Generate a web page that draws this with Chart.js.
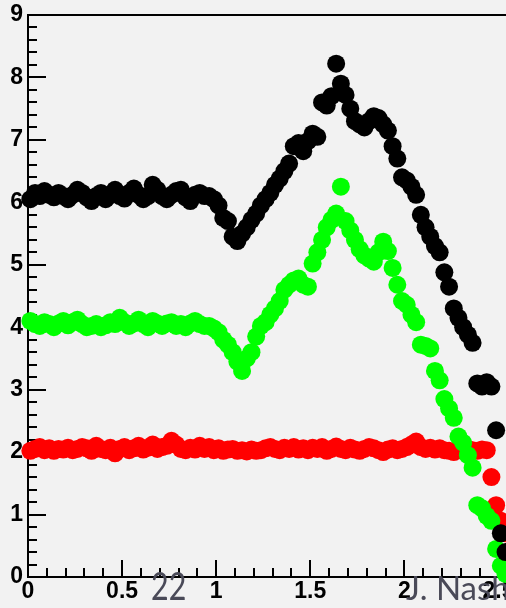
<!DOCTYPE html>
<html>
<head>
<meta charset="utf-8">
<script src="https://cdn.jsdelivr.net/npm/chart.js@4/dist/chart.umd.min.js"></script>
<style>
  body { margin: 0; background: #f2f2f2; }
  #wrap { position: relative; width: 506px; height: 608px; overflow: hidden; }
  .note { position: absolute; font-family: Lato, sans-serif; color: #4a4a58; white-space: nowrap; line-height: 1; }
  #page { left: 151px; top: 566px; font-size: 38px; transform: scaleX(0.8); transform-origin: left top; }
  #author { left: 406px; top: 571px; font-size: 33px; }
</style>
</head>
<body>
<div id="wrap">
  <canvas id="chart" width="506" height="608"></canvas>
  <div class="note" id="page">22</div>
  <div class="note" id="author">J. Nash</div>
</div>
<script>
// bin centres along x
const etaBins = [
  0.0125, 0.0375, 0.0625, 0.0875, 0.1125, 0.1375, 0.1625, 0.1875, 0.2125, 0.2375,
  0.2625, 0.2875, 0.3125, 0.3375, 0.3625, 0.3875, 0.4125, 0.4375, 0.4625, 0.4875,
  0.5125, 0.5375, 0.5625, 0.5875, 0.6125, 0.6375, 0.6625, 0.6875, 0.7125, 0.7375,
  0.7625, 0.7875, 0.8125, 0.8375, 0.8625, 0.8875, 0.9125, 0.9375, 0.9625, 0.9875,
  1.0125, 1.0375, 1.0625, 1.0875, 1.1125, 1.1375, 1.1625, 1.1875, 1.2125, 1.2375,
  1.2625, 1.2875, 1.3125, 1.3375, 1.3625, 1.3875, 1.4125, 1.4375, 1.4625, 1.4875,
  1.5125, 1.5375, 1.5625, 1.5875, 1.6125, 1.6375, 1.6625, 1.6875, 1.7125, 1.7375,
  1.7625, 1.7875, 1.8125, 1.8375, 1.8625, 1.8875, 1.9125, 1.9375, 1.9625, 1.9875,
  2.0125, 2.0375, 2.0625, 2.0875, 2.1125, 2.1375, 2.1625, 2.1875, 2.2125, 2.2375,
  2.2625, 2.2875, 2.3125, 2.3375, 2.3625, 2.3875, 2.4125, 2.4375, 2.4625, 2.4875,
  2.5125, 2.5375
];

const blackVals = [
  6.05, 6.15, 6.1, 6.18, 6.12, 6.08, 6.15, 6.1, 6.05, 6.12,
  6.2, 6.15, 6.08, 6.02, 6.1, 6.15, 6.05, 6.12, 6.2, 6.1,
  6.06, 6.15, 6.22, 6.12, 6.05, 6.1, 6.28, 6.2, 6.1, 6.05,
  6.12, 6.18, 6.2, 6.08, 6.02, 6.12, 6.15, 6.1, 6.1, 6.05,
  5.95, 5.75, 5.7, 5.45, 5.38, 5.5, 5.6, 5.72, 5.82, 5.95,
  6.05, 6.15, 6.28, 6.38, 6.5, 6.62, 6.9, 6.95, 6.82, 6.98,
  7.1, 7.05, 7.6, 7.55, 7.7, 8.22, 7.9, 7.72, 7.5, 7.3,
  7.25, 7.2, 7.3, 7.38, 7.35, 7.25, 7.15, 6.9, 6.7, 6.4,
  6.35, 6.25, 6.12, 5.8, 5.6, 5.45, 5.3, 5.2, 4.88, 4.65,
  4.3, 4.15, 4.0, 3.88, 3.75, 3.1, 3.05, 3.12, 3.05, 2.35,
  0.7, 0.4
];

const greenVals = [
  4.1, 4.05, 4.02, 4.08, 4.05, 4.0, 4.06, 4.1, 4.03, 4.08,
  4.12, 4.05, 4.0, 4.02, 4.05, 4.0, 4.03, 4.08, 4.05, 4.15,
  4.08, 4.02, 4.06, 4.12, 4.05, 4.0, 4.1, 4.06, 4.02, 4.06,
  4.08, 4.02, 4.05, 4.0, 4.06, 4.1, 4.05, 4.02, 4.02, 3.98,
  3.92, 3.8, 3.72, 3.6, 3.45, 3.3, 3.5, 3.6, 3.85, 4.02,
  4.08, 4.2, 4.3, 4.42, 4.6, 4.68, 4.75, 4.78, 4.68, 4.65,
  5.02, 5.2, 5.4, 5.6, 5.72, 5.82, 6.25, 5.7, 5.55, 5.4,
  5.25, 5.15, 5.1, 5.05, 5.2, 5.37, 5.22, 4.95, 4.68, 4.42,
  4.36, 4.2, 4.08, 3.72, 3.7, 3.66, 3.3, 3.15, 2.85, 2.7,
  2.55, 2.25, 2.15, 1.95, 1.75, 1.15, 1.1, 0.98, 0.9, 0.45,
  0.18, 0.05
];

const redVals = [
  2.02, 2.05, 2.08, 2.03, 2.06, 2.02, 2.05, 2.04, 2.07, 2.03,
  2.05, 2.08, 2.06, 2.02, 2.1, 2.05, 2.03, 2.07, 1.98, 2.05,
  2.08, 2.03, 2.06, 2.1, 2.04, 2.07, 2.12, 2.05, 2.08, 2.1,
  2.18, 2.12, 2.05, 2.03, 2.07, 2.04, 2.1, 2.05, 2.08, 2.03,
  2.06, 2.02, 2.04, 2.05, 2.02, 2.03, 2.01, 2.04, 2.02, 2.03,
  2.06, 2.08, 2.05, 2.03, 2.07, 2.05, 2.08, 2.04, 2.06, 2.03,
  2.07, 2.05, 2.08, 2.02, 2.05, 2.09, 2.05, 2.03, 2.07, 2.04,
  2.02, 2.05, 2.08, 2.06, 2.03, 2.0, 2.04, 2.06, 2.03, 2.05,
  2.08, 2.12, 2.17, 2.08, 2.05, 2.07, 2.04, 2.06, 2.03, 2.02,
  2.0, 2.04, 2.02, 2.05, 2.03, 2.02, 2.04, 2.03, 1.6, 1.15,
  0.9, 0.7
];

const xTickLabels = ['0', '0.5', '1', '1.5', '2', '2.5'];
const yTickLabels = ['0', '1', '2', '3', '4', '5', '6', '7', '8', '9'];

function isMajor(v, step){ return Math.abs(v/step - Math.round(v/step)) < 1e-6; }
function pts(ys){ return etaBins.map((x, i) => ({x: x, y: ys[i]})); }

const labelFont = {family: 'Liberation Sans', size: 23, weight: 'bold'};

// ROOT style frame: inward ticks, top border
const frame = {
  id: 'frame',
  beforeDatasetsDraw(c){
    const ctx = c.ctx, a = c.chartArea, x = c.scales.x, y = c.scales.y;
    ctx.save();
    ctx.strokeStyle = '#000';
    ctx.lineWidth = 2;
    ctx.beginPath();
    x.ticks.forEach(t => {
      const px = Math.round(x.getPixelForValue(t.value));
      const len = isMajor(t.value, 0.5) ? 17 : 9;
      ctx.moveTo(px, a.bottom); ctx.lineTo(px, a.bottom - len);
    });
    y.ticks.forEach(t => {
      const py = Math.round(y.getPixelForValue(t.value));
      const len = isMajor(t.value, 1) ? 18 : 9;
      ctx.moveTo(a.left, py); ctx.lineTo(a.left + len, py);
    });
    ctx.moveTo(a.left - 1, a.top); ctx.lineTo(a.right, a.top);
    ctx.stroke();
    ctx.restore();
  }
};

const ctx = document.getElementById('chart').getContext('2d');
const chart = new Chart(ctx, {
  type: 'scatter',
  data: {
    datasets: [
      {label: 'black', data: pts(blackVals), backgroundColor: '#000000', order: 0, clip: false},
      {label: 'green', data: pts(greenVals), backgroundColor: '#00ff00', order: 1, clip: false},
      {label: 'red', data: pts(redVals), backgroundColor: '#ff0000', order: 2, clip: false}
    ]
  },
  options: {
    responsive: false,
    animation: false,
    devicePixelRatio: 1,
    layout: {autoPadding: false, padding: {top: 15, left: 0, right: 0, bottom: 0}},
    plugins: {legend: {display: false}, tooltip: {enabled: false}},
    elements: {point: {radius: 9, hoverRadius: 9, borderWidth: 0, pointStyle: 'circle'}},
    scales: {
      x: {
        type: 'linear', min: 0, max: 2.54,
        afterFit(s){ s.height = 31; s.paddingLeft = 0; s.paddingRight = 0; },
        ticks: {
          stepSize: 0.1, includeBounds: false, autoSkip: false, maxTicksLimit: 100,
          maxRotation: 0, minRotation: 0, padding: 1, color: '#000', font: labelFont,
          callback: v => {
            if (!isMajor(v, 0.5)) return '';
            return xTickLabels[Math.round(v * 2)] || '';
          }
        },
        grid: {drawOnChartArea: false, drawTicks: false},
        border: {display: true, color: '#000', width: 2}
      },
      y: {
        type: 'linear', min: 0, max: 9,
        afterFit(s){ s.width = 28; s.paddingTop = 0; s.paddingBottom = 0; },
        ticks: {
          stepSize: 0.2, autoSkip: false, maxTicksLimit: 100, padding: 5,
          color: '#000', font: labelFont,
          callback: v => isMajor(v, 1) ? (yTickLabels[Math.round(v)] || '') : ''
        },
        grid: {drawOnChartArea: false, drawTicks: false},
        border: {display: true, color: '#000', width: 2}
      }
    }
  },
  plugins: [frame]
});
</script>
</body>
</html>
